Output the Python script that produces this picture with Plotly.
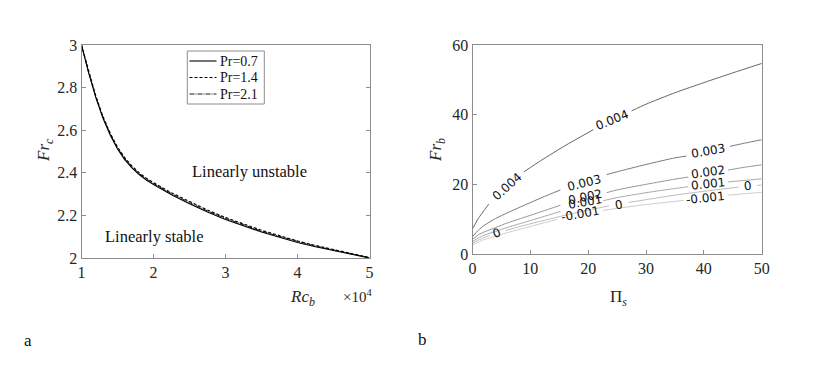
import plotly.graph_objects as go

# ---------------- Panel a data ----------------
rc_b = [1.0, 1.1, 1.2, 1.3, 1.4, 1.5, 1.6, 1.7, 1.8, 1.9, 2.0, 2.25, 2.5, 2.75,
        3.0, 3.25, 3.5, 3.75, 4.0, 4.25, 4.5, 4.75, 5.0]
fr_pr07 = [3.000, 2.868, 2.752, 2.655, 2.576, 2.512, 2.462, 2.423, 2.392, 2.366,
           2.345, 2.297, 2.255, 2.216, 2.181, 2.150, 2.122, 2.097, 2.073, 2.053,
           2.035, 2.017, 2.000]
fr_pr14 = [3.000, 2.873, 2.759, 2.663, 2.585, 2.521, 2.471, 2.432, 2.401, 2.375,
           2.354, 2.306, 2.264, 2.225, 2.190, 2.159, 2.130, 2.105, 2.080, 2.059,
           2.040, 2.021, 2.002]
fr_pr21 = [3.000, 2.871, 2.756, 2.659, 2.581, 2.517, 2.467, 2.428, 2.397, 2.371,
           2.350, 2.302, 2.260, 2.221, 2.186, 2.155, 2.126, 2.101, 2.077, 2.056,
           2.038, 2.019, 2.001]
pr_labels = ["Pr=0.7", "Pr=1.4", "Pr=2.1"]

# ---------------- Panel b data (contour lines, None = label gap) ----------------
c004_x = [0, 1, 2, 2.8, None, 8.9, 12, 16, 20.9, None, 27.5, 30, 35, 40, 45, 50]
c004_y = [7.2, 10.2, 12.5, 14.3, None, 23.6, 27.0, 31.1, 35.7, None, 41.1, 43.0, 46.3, 49.2, 52.0, 54.7]

c003_x = [0, 1, 2, 4, 6, 8, 12, 15.2, None, 23.2, 25, 30, 35, 37, None, 44.5, 47, 50]
c003_y = [5.0, 6.8, 8.2, 10.2, 11.8, 13.3, 16.2, 18.4, None, 22.8, 23.6, 25.7, 27.6, 28.1, None, 30.9, 31.8, 32.8]

c002_x = [0, 1, 2, 4, 6, 8, 12, 15.2, None, 23.2, 25, 30, 35, 37.3, None, 44.2, 47, 50]
c002_y = [4.2, 5.5, 6.3, 7.6, 8.9, 10.0, 12.2, 14.0, None, 17.6, 18.4, 20.0, 21.5, 22.1, None, 24.1, 24.9, 25.6]

c001_x = [0, 1, 2, 4, 6, 8, 12, 15.2, None, 22.6, 25, 30, 35, 37.3, None, 44.2, 47, 50]
c001_y = [3.6, 4.6, 5.4, 6.5, 7.6, 8.6, 10.6, 12.2, None, 15.3, 16.2, 17.6, 18.8, 19.3, None, 20.7, 21.1, 21.6]

c000_x = [0, 1, 2, 2.9, None, 5.7, 8, 12, 16, 20, 23.6, None, 27.0, 30, 35, 40, 46.0, None, 49.2, 50]
c000_y = [3.1, 4.0, 4.7, 5.3, None, 6.7, 7.8, 9.5, 11.1, 12.6, 13.8, None, 14.8, 15.6, 16.9, 18.0, 19.2, None, 19.7, 19.8]

cm001_x = [0, 1, 2, 4, 6, 8, 12, 14.6, None, 22.6, 25, 30, 35, 36.5, None, 44.2, 47, 50]
cm001_y = [2.6, 3.4, 4.1, 5.1, 6.1, 7.0, 8.8, 9.9, None, 12.5, 13.1, 14.2, 15.1, 15.4, None, 16.9, 17.3, 17.7]

label_text = ["0.004", "0.004", "0.003", "0.003", "0.002", "0.002", "0.001", "0.001",
              "0", "0", "0", "-0.001", "-0.001"]
label_x = [5.9, 24.2, 19.3, 40.8, 19.5, 40.8, 19.5, 40.8, 4.3, 25.3, 47.6, 18.6, 40.3]
label_y = [19.3, 38.4, 20.4, 29.6, 16.4, 23.4, 14.9, 20.1, 5.9, 14.2, 19.4, 11.5, 16.1]
label_angle = [-42, -22, -14, -10, -12, -8, -10, -6, -20, -10, -5, -10, -6]

W, H = 830, 377
OFF = 8  # page body margin offset


def px(x):
    return (x - OFF) / W


def py(y):
    return 1 - (y - OFF) / H


fig = go.Figure()

pr_series = [fr_pr07, fr_pr14, fr_pr21]
pr_dash = ["solid", "3px,2px", "5px,1px,1px,1px"]
pr_width = [1.1, 1.1, 0.9]
for name, ys, dash, wd in zip(pr_labels, pr_series, pr_dash, pr_width):
    fig.add_trace(go.Scatter(x=rc_b, y=ys, mode="lines", name=name, showlegend=False,
                             line=dict(color="black", width=wd, dash=dash),
                             xaxis="x", yaxis="y"))

# Panel b contour lines
contours = [
    (c004_x, c004_y, "#656565"),
    (c003_x, c003_y, "#7a7a7a"),
    (c002_x, c002_y, "#969696"),
    (c001_x, c001_y, "#a9a9a9"),
    (c000_x, c000_y, "#bdbdbd"),
    (cm001_x, cm001_y, "#cdcdcd"),
]
for cx, cy, col in contours:
    fig.add_trace(go.Scatter(x=cx, y=cy, mode="lines", showlegend=False,
                             connectgaps=False,
                             line=dict(color=col, width=1, shape="spline", smoothing=0.6),
                             xaxis="x2", yaxis="y2"))

serif = "Liberation Serif"
axis_common = dict(showline=True, linecolor="#8c8c8c", linewidth=1, ticks="inside",
                   ticklen=4, tickcolor="#8c8c8c", showgrid=False, zeroline=False,
                   automargin=False,
                   tickfont=dict(family=serif, size=16, color="#262626"))

annotations = []
for t, lx, ly, ang in zip(label_text, label_x, label_y, label_angle):
    annotations.append(dict(x=lx, y=ly, xref="x2", yref="y2", text=t, showarrow=False,
                            textangle=ang, xanchor="center", yanchor="middle",
                            font=dict(family="DejaVu Sans", size=12, color="#111111")))


def paper_text(x, y, text, size=17, angle=0, color="#262626", xanchor="center"):
    return dict(x=px(x), y=py(y), xref="paper", yref="paper", text=text, showarrow=False,
                textangle=angle, xanchor=xanchor, yanchor="middle",
                font=dict(family=serif, size=size, color=color))


annotations += [
    dict(x=3.34, y=2.404, xref="x", yref="y", text="Linearly unstable", showarrow=False,
         xanchor="center", yanchor="middle",
         font=dict(family=serif, size=16.5, color="#111111")),
    dict(x=2.02, y=2.10, xref="x", yref="y", text="Linearly stable", showarrow=False,
         xanchor="center", yanchor="middle",
         font=dict(family=serif, size=16.5, color="#111111")),
    paper_text(45, 150, "<i>Fr</i><sub><i>c</i></sub>", angle=-90),
    paper_text(302, 298, "<i>Rc</i><sub><i>b</i></sub>"),
    paper_text(357, 296, "×10<sup>4</sup>", size=15),
    paper_text(437, 150, "<i>Fr</i><sub><i>b</i></sub>", angle=-90),
    paper_text(618, 298, "Π<sub><i>s</i></sub>"),
    paper_text(28, 340, "a", color="#111111"),
    paper_text(422, 339, "b", color="#111111"),
]

# manual legend (box, line samples, labels)
shapes = [dict(type="rect", xref="paper", yref="paper",
               x0=px(187.3), x1=px(264.3), y0=py(104), y1=py(51),
               line=dict(color="#8c8c8c", width=1), fillcolor="white", layer="above")]
leg_rows = [61, 77.5, 94]
for name, dash, wd, ry in zip(pr_labels, pr_dash, pr_width, leg_rows):
    shapes.append(dict(type="line", xref="paper", yref="paper",
                       x0=px(189.5), x1=px(216.5), y0=py(ry), y1=py(ry),
                       line=dict(color="black", width=wd, dash=dash), layer="above"))
    annotations.append(paper_text(218, ry, name, size=14, color="#111111", xanchor="left"))

fig.update_layout(
    width=W, height=H,
    autosize=False,
    margin=dict(l=0, r=0, t=0, b=0, pad=0, autoexpand=False),
    paper_bgcolor="white", plot_bgcolor="white",
    xaxis=dict(domain=[px(81.5), px(369.5)], range=[1, 5], tickvals=[1, 2, 3, 4, 5],
               mirror=True, anchor="y", **axis_common),
    yaxis=dict(domain=[py(258), py(45)], range=[2, 3],
               tickvals=[2, 2.2, 2.4, 2.6, 2.8, 3], ticktext=["2", "2.2", "2.4", "2.6", "2.8", "3"],
               mirror="ticks", anchor="x", **axis_common),
    xaxis2=dict(domain=[px(472.5), px(761.7)], range=[0, 50], tickvals=[0, 10, 20, 30, 40, 50],
                mirror=True, anchor="y2", **axis_common),
    yaxis2=dict(domain=[py(254), py(45)], range=[0, 60], tickvals=[0, 20, 40, 60],
                mirror=True, anchor="x2", **axis_common),
    annotations=annotations,
    shapes=shapes,
    showlegend=False,
)

fig.write_html("out.html")
